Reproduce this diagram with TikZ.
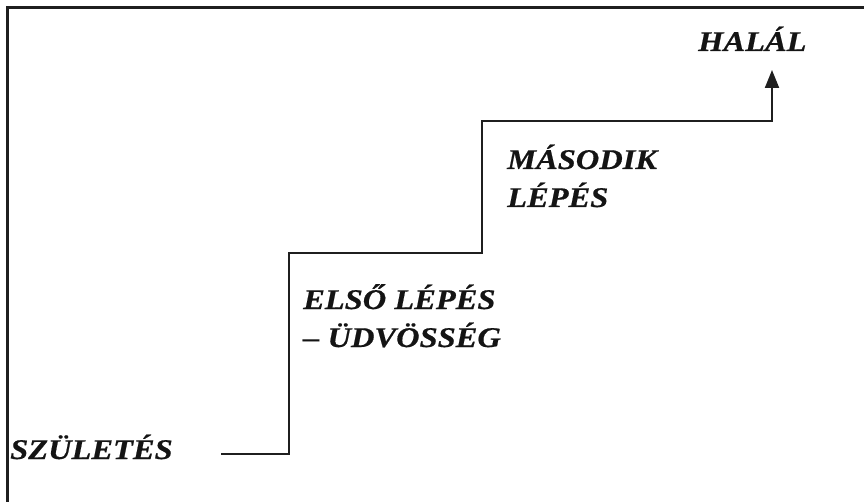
\documentclass[tikz,border=0pt]{standalone}
\usepackage{fontspec}
\setmainfont{Liberation Serif}
\newfontfamily\labfont[FakeStretch=1.14,FakeBold=0.6]{Liberation Serif}
\usetikzlibrary{arrows.meta}
\begin{document}
\begin{tikzpicture}[x=1pt,y=1pt,
  lbl/.style={anchor=base west,inner sep=0pt,font=\labfont\bfseries\itshape\fontsize{28.5}{34}\selectfont,text=black!92},
  stair/.style={line width=2pt,color=black!88},
  frameline/.style={line width=3pt,color=black!88}]
\useasboundingbox (0,0) rectangle (864,501);
% frame (left and top edges)
\coordinate (fb) at (7,-5);
\coordinate (fc) at (7,493);
\coordinate (fr) at (870,493);
\draw[frameline] (fb) -- (fc) -- (fr);
% labels
\node[lbl] (szul) at (10,42) {SZÜLETÉS};
\node[lbl] (elso1) at (303,192) {ELSŐ LÉPÉS};
\node[lbl] (elso2) at (303,154) {– ÜDVÖSSÉG};
\node[lbl] (mas1) at (507,332) {MÁSODIK};
\node[lbl] (mas2) at (507,294) {LÉPÉS};
\node[lbl] (halal) at (698,450) {HALÁL};
% staircase
\coordinate (s0) at (221,47);
\coordinate (s1) at (289,47);
\coordinate (s2) at (289,248);
\coordinate (s3) at (482,248);
\coordinate (s4) at (482,380);
\coordinate (s5) at (772,380);
\coordinate (s6) at (772,431);
\draw[stair,-{Triangle[length=18pt,width=14pt]}] (s0) -- (s1) -- (s2) -- (s3) -- (s4) -- (s5) -- (s6);
\end{tikzpicture}
\end{document}
